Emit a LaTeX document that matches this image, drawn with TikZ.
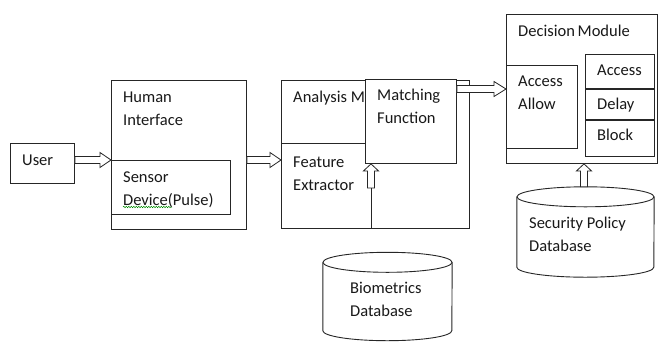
\documentclass[tikz,border=0pt]{standalone}
\usepackage{fontspec}
\setmainfont{Carlito}
\usetikzlibrary{calc,decorations.pathmorphing}

\tikzset{
    box/.style={draw=black!85, line width=0.9pt, fill=white, anchor=north west, inner sep=0pt},
    txt/.style={anchor=north west, align=left, inner sep=0pt, text=black!90,
                font=\fontsize{16.5}{23}\selectfont},
    dbase/.style={inner sep=0pt},
    dbline/.style={draw=black!85, line width=0.9pt, fill=white},
    blockarrow/.style={draw=black!85, fill=white, line width=0.8pt, line join=miter},
}

% hollow block arrow from #2 to #3, head length #1
\newcommand{\hollowarrow}[3][10pt]{%
    \path ($(#3)!#1!(#2)$) coordinate (neck);
    \draw[blockarrow] ($(#2)!3.5pt!90:(#3)$) -- ($(neck)!3.5pt!90:(#3)$)
        -- ($(neck)!7.5pt!90:(#3)$) -- (#3) -- ($(neck)!7.5pt!-90:(#3)$)
        -- ($(neck)!3.5pt!-90:(#3)$) -- ($(#2)!3.5pt!-90:(#3)$) -- cycle;
}

\begin{document}
\begin{tikzpicture}[x=1pt, y=-1pt]
    \useasboundingbox (0,0) rectangle (659,341);

    % user and human interface
    \node[box, minimum width=64pt, minimum height=40pt] (user) at (10,143) {};
    \node[txt] (usertext) at ([shift={(12pt,-6pt)}]user.north west) {\strut User};

    \node[box, minimum width=135pt, minimum height=149pt] (hi) at (111,80) {};
    \node[txt] (hitext) at ([shift={(12pt,-6pt)}]hi.north west) {\strut Human\\Interface};

    \node[box, minimum width=119pt, minimum height=54pt] (sensor) at (111,160) {};
    \node[txt] (sensortext) at ([shift={(12pt,-6pt)}]sensor.north west) {\strut Sensor\\Device(Pulse)};
    \draw[green!55!black, line width=0.5pt, decorate,
          decoration={snake, amplitude=0.7pt, segment length=2.5pt}]
        ([yshift=-41pt]sensortext.north west) -- ++(49,0);

    % analysis module
    \node[box, minimum width=188pt, minimum height=148pt] (analysis) at (281,80) {};
    \node[txt] (analysistext) at ([shift={(12pt,-6pt)}]analysis.north west) {\strut Analysis M};
    \node[txt] (featuretext) at ([shift={(12pt,-71pt)}]analysis.north west) {\strut Feature\\Extractor};

    \node[box, minimum width=91pt, minimum height=84pt] (match) at (365,79) {};
    \node[txt] (matchtext) at ([shift={(12pt,-5pt)}]match.north west) {\strut Matching\\Function};
    \draw[draw=black!85, line width=0.9pt] ([yshift=-63pt]analysis.north west) -- ([yshift=-63pt]analysis.north west -| match.west);

    % decision module
    \node[box, minimum width=151pt, minimum height=149pt] (decision) at (506,14) {};
    \node[txt] (decisiontext) at ([shift={(12pt,-6pt)}]decision.north west) {\strut Decision\,Module};

    \node[box, minimum width=71pt, minimum height=83pt] (allow) at (506,65) {};
    \node[txt] (allowtext) at ([shift={(12pt,-5pt)}]allow.north west) {\strut Access\\Allow};

    \node[box, minimum width=69pt, minimum height=34pt] (access) at (585,54) {};
    \node[txt] (accesstext) at ([shift={(12pt,-5pt)}]access.north west) {\strut Access};
    \node[box, minimum width=69pt, minimum height=30pt] (delay) at (access.south west) {};
    \node[txt] (delaytext) at ([shift={(12pt,-4pt)}]delay.north west) {\strut Delay};
    \node[box, minimum width=69pt, minimum height=36pt] (block) at (delay.south west) {};
    \node[txt] (blocktext) at ([shift={(12pt,-4pt)}]block.north west) {\strut Block};

    % databases
    \node[dbase, minimum width=137pt, minimum height=90pt] (security) at (585.5,232) {};
    \node[dbase, minimum width=129pt, minimum height=88pt] (bio) at (387.5,296.5) {};
    \foreach \db/\rx in {security/68.5, bio/64.5} {
        \draw[dbline] ($(\db.north west)+(0,10)$) -- ($(\db.south west)+(0,-10)$)
            arc[start angle=180, end angle=0, x radius=\rx, y radius=10]
            -- ($(\db.north east)+(0,10)$);
        \draw[dbline] ($(\db.north)+(0,10)$) ellipse [x radius=\rx, y radius=10];
    }
    \node[txt] (securitytext) at (529,212) {\strut Security Policy\\Database};
    \node[txt] (biotext) at (350,277) {\strut Biometrics\\Database};

    % arrows
    \path (user.east |- sensor.north) coordinate (u0);
    \path (sensor.north west) coordinate (u1);
    \hollowarrow[11pt]{u0}{u1}

    \path (hi.east |- sensor.north) coordinate (h0);
    \path (analysis.west |- sensor.north) coordinate (h1);
    \hollowarrow[11pt]{h0}{h1}

    \path ([yshift=-10pt]match.north east) coordinate (d0);
    \path (d0 -| decision.west) coordinate (d1);
    \hollowarrow[12pt]{d0}{d1}

    \path ([xshift=6pt]match.south west) coordinate (m1);
    \path (m1 |- analysis.south) coordinate (m0);
    \path ([yshift=-24pt]m1) coordinate (mbend);
    \draw[draw=black!85, line width=0.9pt] (m0) -- (mbend);
    \hollowarrow[7pt]{mbend}{m1}

    \path ([xshift=-1.5pt]security.north) coordinate (s0);
    \path (s0 |- decision.south) coordinate (s1);
    \hollowarrow[7pt]{s0}{s1}
\end{tikzpicture}
\end{document}
